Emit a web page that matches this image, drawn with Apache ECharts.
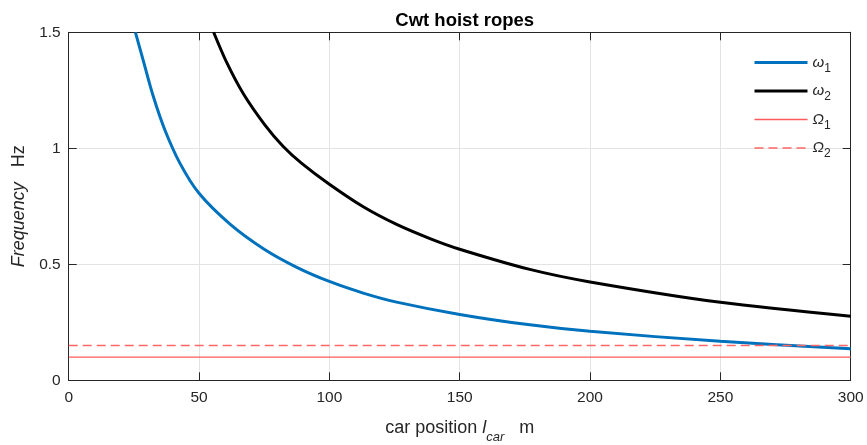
<!DOCTYPE html>
<html>
<head>
<meta charset="utf-8">
<script src="https://cdn.jsdelivr.net/npm/echarts@6/dist/echarts.min.js"></script>
<style>
  html, body { margin: 0; padding: 0; background: #fff; }
  #chart { width: 867px; height: 445px; }
</style>
</head>
<body>
<div id="chart"></div>
<script>
// Natural frequencies of the counterweight hoist ropes vs. car position
const carPosition1 = [25.6, 28.9, 32.5, 36.9, 42.7, 50, 62, 75, 87.5, 100, 113, 125.8, 150, 176.9, 200, 250, 300];
const omega1 = [1.5, 1.366, 1.222, 1.079, 0.935, 0.806, 0.672, 0.565, 0.487, 0.426, 0.376, 0.337, 0.284, 0.239, 0.211, 0.168, 0.136];

const carPosition2 = [55.6, 60.6, 67.0, 75.3, 82.3, 89.4, 100, 113, 125.8, 138.6, 150, 176.9, 200, 250, 300];
const omega2 = [1.5, 1.37, 1.235, 1.1, 1.008, 0.935, 0.845, 0.748, 0.672, 0.611, 0.565, 0.478, 0.424, 0.336, 0.276];

// Excitation frequencies (constant over the hoistway)
const excitationX = [0, 300];
const Omega1 = [0.1, 0.1];
const Omega2 = [0.15, 0.15];

const xTicks = { min: 0, max: 300, interval: 50 };
const yTicks = { min: 0, max: 1.5, interval: 0.5 };

const FONT = "'Liberation Sans', Arial, Helvetica, sans-serif";
const AXIS_COLOR = '#262626';

const STYLE = {
  'ω1': { color: '#0072BD', width: 3, type: 'solid' },
  'ω2': { color: '#000000', width: 3, type: 'solid' },
  'Ω1': { color: '#ff5a5a', width: 1.4, type: 'solid' },
  'Ω2': { color: '#ff6666', width: 1.5, type: [9, 5] }
};

function pairs(xs, ys) { return xs.map((x, i) => [x, ys[i]]); }

const chart = echarts.init(document.getElementById('chart'), null, { renderer: 'canvas' });

const subRich = {
  g: { fontFamily: FONT, fontStyle: 'italic', fontSize: 15, color: AXIS_COLOR, lineHeight: 24 },
  s: { fontFamily: FONT, fontSize: 12, color: AXIS_COLOR, lineHeight: 12, verticalAlign: 'bottom' }
};

const legendLabels = {
  'ω1': '{g|ω}{s|1}',
  'ω2': '{g|ω}{s|2}',
  'Ω1': '{g|Ω}{s|1}',
  'Ω2': '{g|Ω}{s|2}'
};

const sharedAxis = () => ({
  axisLine: { show: true, onZero: false, lineStyle: { color: AXIS_COLOR, width: 1 } },
  axisTick: { show: true, inside: true, length: 8, lineStyle: { color: AXIS_COLOR, width: 1 } }
});

function lineSeries(name, xs, ys, extra) {
  const s = STYLE[name];
  return Object.assign({
    name, type: 'line', data: pairs(xs, ys), symbol: 'none', clip: true,
    lineStyle: { color: s.color, width: s.width, type: s.type },
    itemStyle: { color: s.color }
  }, extra);
}

chart.setOption({
  backgroundColor: '#ffffff',
  animation: false,
  title: {
    text: 'Cwt hoist ropes',
    left: 459.7,
    textAlign: 'center',
    top: 6,
    textStyle: { fontFamily: FONT, fontSize: 18.5, fontWeight: 'bold', color: '#000' }
  },
  grid: { left: 68.7, right: 16.3, top: 32.3, bottom: 64.7, outerBoundsMode: 'none', containLabel: false },
  legend: {
    orient: 'vertical',
    left: 753,
    top: 55,
    padding: 0,
    itemWidth: 53,
    itemHeight: 2,
    itemGap: 9,
    itemStyle: { opacity: 0 },
    formatter: (name) => legendLabels[name],
    textStyle: { rich: subRich },
    data: ['ω1', 'ω2', 'Ω1', 'Ω2'].map((name) => ({
      name,
      itemStyle: { opacity: 0 },
      lineStyle: { color: STYLE[name].color, width: STYLE[name].width, type: STYLE[name].type, opacity: 1 }
    }))
  },
  xAxis: [
    Object.assign({
      type: 'value', position: 'bottom', ...xTicks,
      axisLabel: { show: true, margin: 9, fontFamily: FONT, fontSize: 15.5, color: AXIS_COLOR },
      splitLine: { show: true, lineStyle: { color: '#e3e3e3', width: 1 } },
      name: '{n|car position }{i|l}{s|car}{n|   m}',
      nameLocation: 'middle',
      nameGap: 32,
      nameTextStyle: {
        rich: {
          n: { fontFamily: FONT, fontSize: 18, color: AXIS_COLOR, lineHeight: 32 },
          i: { fontFamily: FONT, fontSize: 18, fontStyle: 'italic', color: AXIS_COLOR, lineHeight: 32 },
          s: { fontFamily: FONT, fontSize: 13, fontStyle: 'italic', color: AXIS_COLOR, lineHeight: 13, verticalAlign: 'bottom' }
        }
      }
    }, sharedAxis()),
    Object.assign({
      type: 'value', position: 'top', ...xTicks,
      axisLabel: { show: false },
      splitLine: { show: false }
    }, sharedAxis())
  ],
  yAxis: [
    Object.assign({
      type: 'value', position: 'left', ...yTicks,
      axisLabel: { show: true, margin: 8, fontFamily: FONT, fontSize: 15.5, color: AXIS_COLOR },
      splitLine: { show: true, lineStyle: { color: '#e3e3e3', width: 1 } },
      name: '{i|Frequency}{n|   Hz}',
      nameLocation: 'middle',
      nameGap: 40,
      nameRotate: 90,
      nameTextStyle: {
        rich: {
          n: { fontFamily: FONT, fontSize: 18, color: AXIS_COLOR },
          i: { fontFamily: FONT, fontSize: 18, fontStyle: 'italic', color: AXIS_COLOR }
        }
      }
    }, sharedAxis()),
    Object.assign({
      type: 'value', position: 'right', ...yTicks,
      axisLabel: { show: false },
      splitLine: { show: false }
    }, sharedAxis())
  ],
  series: [
    lineSeries('ω1', carPosition1, omega1, { smooth: 0.3, z: 3 }),
    lineSeries('ω2', carPosition2, omega2, { smooth: 0.3, z: 3 }),
    lineSeries('Ω1', excitationX, Omega1, { z: 2 }),
    lineSeries('Ω2', excitationX, Omega2, { z: 4 })
  ]
});
</script>
</body>
</html>
